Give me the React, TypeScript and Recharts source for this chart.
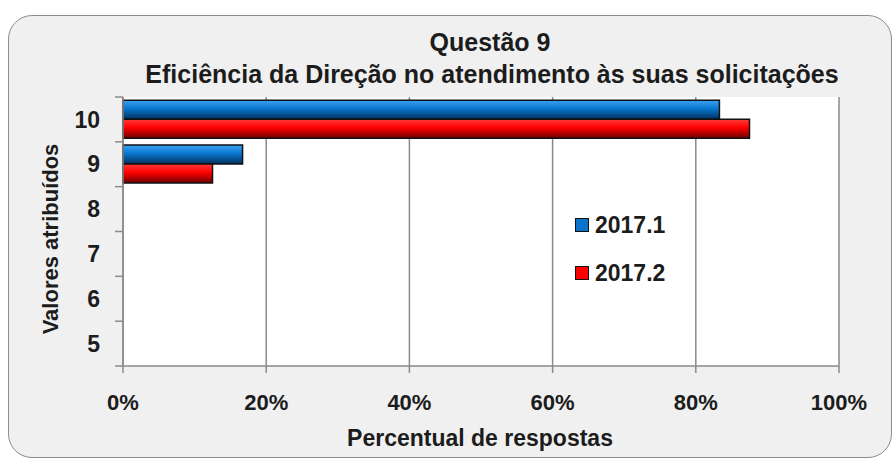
import React from 'react';
import { BarChart, Bar, XAxis, YAxis, CartesianGrid, Legend } from 'recharts';

const categories = ['10', '9', '8', '7', '6', '5'];
const serie20171 = [83.3, 16.7, 0, 0, 0, 0];
const serie20172 = [87.5, 12.5, 0, 0, 0, 0];
const seriesNames = ['2017.1', '2017.2'];
const xTicks = [0, 20, 40, 60, 80, 100];
const titleLines = ['Questão 9', 'Eficiência da Direção no atendimento às suas solicitações'];
const xTitle = 'Percentual de respostas';
const yTitle = 'Valores atribuídos';

const data = categories.map((c, i) => ({ valor: c, s1: serie20171[i], s2: serie20172[i] }));

const FONT = '"Liberation Sans", Arial, sans-serif';
const TXT = '#1c1c1c';
const AXIS = '#8a8a8a';
const Y_TICK_MARGIN = 23;
const Y_TICK_LEN = 8;

const legendItems = [
  { name: seriesNames[0], color: '#0a72c8' },
  { name: seriesNames[1], color: '#ff0000' },
];

const LegendContent = () => (
  <div style={{ fontFamily: FONT, fontWeight: 700, fontSize: 23, color: TXT }}>
    {legendItems.map((it) => (
      <div key={it.name} style={{ display: 'flex', alignItems: 'center', height: 26, marginBottom: 22 }}>
        <span style={{ display: 'inline-block', width: 14, height: 14, boxSizing: 'border-box', background: it.color, border: '1.5px solid #111', marginRight: 6 }} />
        <span>{it.name}</span>
      </div>
    ))}
  </div>
);

// Category tick: label at band centre, tick marks at band boundaries (Excel style)
const CatTick = (props: any) => {
  const { x, y, payload, index, visibleTicksCount } = props;
  const half = payload && typeof payload.offset === 'number' ? payload.offset : 0;
  const axisX = x + Y_TICK_MARGIN;
  const isLast = index === (visibleTicksCount ?? categories.length) - 1;
  return (
    <g>
      <line x1={axisX - Y_TICK_LEN} x2={axisX} y1={y - half} y2={y - half} stroke={AXIS} strokeWidth={1.5} />
      {isLast && <line x1={axisX - Y_TICK_LEN} x2={axisX} y1={y + half} y2={y + half} stroke={AXIS} strokeWidth={1.5} />}
      <text x={x} y={y} dy="0.355em" textAnchor="end" fill={TXT} fontFamily={FONT} fontWeight={700} fontSize={23}>
        {payload.value}
      </text>
    </g>
  );
};

export default function App() {
  return (
    <div style={{ position: 'absolute', left: 0, top: 0, width: 893, height: 460, background: '#fff', overflow: 'hidden' }}>
      <div style={{ position: 'absolute', left: 8, top: 15, width: 884, height: 443, boxSizing: 'border-box', border: '1.5px solid #8c8c8c', borderRadius: 24, background: '#f0f0f0' }} />
      <div style={{ position: 'absolute', left: 0, top: 0 }}>
        <BarChart
          width={893}
          height={460}
          data={data}
          layout="vertical"
          margin={{ top: 97, right: 54, bottom: 0, left: 0 }}
          barCategoryGap="7%"
          barGap={0}
        >
          <defs>
            <linearGradient id="gBlue" x1="0" y1="0" x2="0" y2="1">
              <stop offset="0%" stopColor="#3aa2f2" />
              <stop offset="45%" stopColor="#0a76cf" />
              <stop offset="100%" stopColor="#00305e" />
            </linearGradient>
            <linearGradient id="gRed" x1="0" y1="0" x2="0" y2="1">
              <stop offset="0%" stopColor="#ff3a3a" />
              <stop offset="45%" stopColor="#ff0000" />
              <stop offset="100%" stopColor="#6e0000" />
            </linearGradient>
          </defs>
          <CartesianGrid horizontal={false} stroke={AXIS} strokeWidth={1.5} fill="#ffffff" />
          <XAxis
            type="number"
            domain={[0, 100]}
            ticks={xTicks}
            tickFormatter={(v: number) => `${v}%`}
            height={94}
            tickSize={7}
            tickMargin={21}
            axisLine={{ stroke: AXIS, strokeWidth: 1.5 }}
            tickLine={{ stroke: AXIS, strokeWidth: 1.5 }}
            tick={{ fill: TXT, fontFamily: FONT, fontWeight: 700, fontSize: 22 }}
            interval={0}
          />
          <YAxis
            type="category"
            dataKey="valor"
            width={123}
            tickSize={0}
            tickMargin={Y_TICK_MARGIN}
            axisLine={{ stroke: AXIS, strokeWidth: 1.5 }}
            tickLine={false}
            tick={<CatTick />}
            interval={0}
          />
          <Legend
            layout="vertical"
            align="center"
            verticalAlign="middle"
            content={<LegendContent />}
            wrapperStyle={{ position: 'absolute', left: 575, top: 212, width: 120 }}
          />
          <Bar dataKey="s1" name={seriesNames[0]} fill="url(#gBlue)" stroke="#111" strokeWidth={1.5} isAnimationActive={false} />
          <Bar dataKey="s2" name={seriesNames[1]} fill="url(#gRed)" stroke="#111" strokeWidth={1.5} isAnimationActive={false} />
        </BarChart>
      </div>
      <div style={{ position: 'absolute', left: 0, width: 980, top: 27, textAlign: 'center', fontFamily: FONT, fontWeight: 700, fontSize: 25, lineHeight: '30px', color: TXT }}>{titleLines[0]}</div>
      <div style={{ position: 'absolute', left: 0, width: 984, top: 59, textAlign: 'center', fontFamily: FONT, fontWeight: 700, fontSize: 25, lineHeight: '30px', color: TXT, whiteSpace: 'nowrap' }}>{titleLines[1]}</div>
      <div style={{ position: 'absolute', left: 0, width: 960, top: 424, textAlign: 'center', fontFamily: FONT, fontWeight: 700, fontSize: 23, lineHeight: '28px', color: TXT }}>{xTitle}</div>
      <div style={{ position: 'absolute', left: 51, top: 239, transform: 'translate(-50%, -50%) rotate(-90deg)', fontFamily: FONT, fontWeight: 700, fontSize: 22, lineHeight: '28px', color: TXT, whiteSpace: 'nowrap' }}>{yTitle}</div>
    </div>
  );
}
